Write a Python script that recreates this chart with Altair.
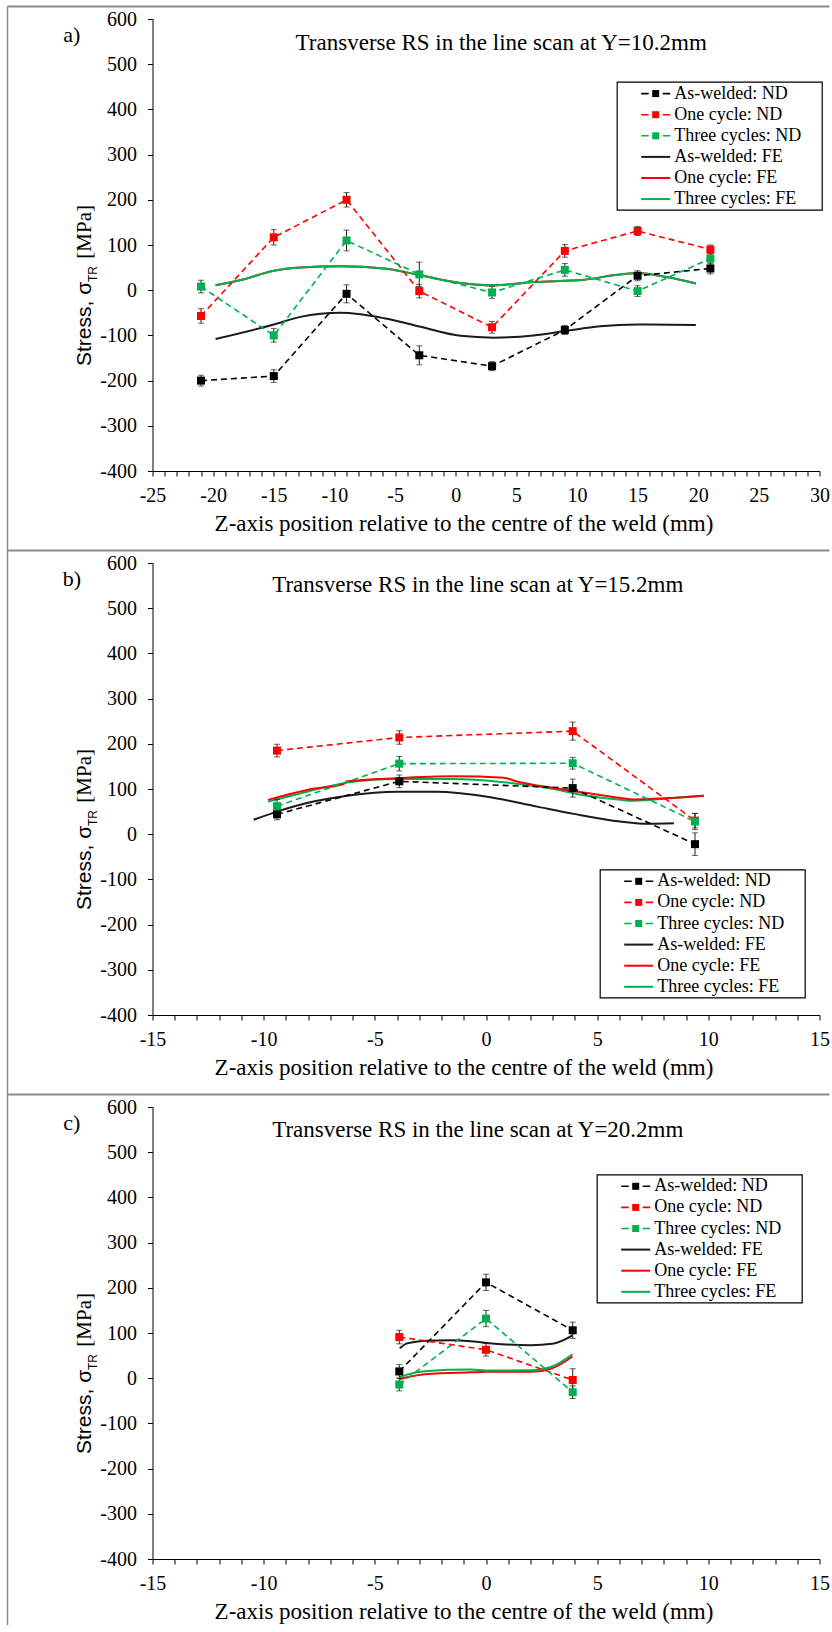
import altair as alt
import pandas as pd

# ---------------- series labels and colours ----------------
SERIES = ["As-welded: ND", "One cycle: ND", "Three cycles: ND",
          "As-welded: FE", "One cycle: FE", "Three cycles: FE"]
COLORS = ["#000000", "#FF0000", "#00B050", "#1a1a1a", "#FF0000", "#00B050"]

PANEL_LETTERS = ["a)", "b)", "c)"]
PANEL_TITLES = ["Transverse RS in the line scan at Y=10.2mm",
                "Transverse RS in the line scan at Y=15.2mm",
                "Transverse RS in the line scan at Y=20.2mm"]
X_TITLE = "Z-axis position relative to the centre of the weld (mm)"
Y_TICKS = list(range(-400, 601, 100))

# ---------------- a) line scan at Y = 10.2 mm ----------------
A_Z_ND = [-21, -15, -9, -3, 3, 9, 15, 21]
A_AW_ND = [-200, -190, -8, -144, -168, -88, 32, 48]
A_AW_ERR = [12, 14, 20, 21, 10, 10, 11, 12]
A_1C_ND = [-57, 117, 200, -2, -82, 87, 131, 90]
A_1C_ERR = [16, 17, 16, 15, 13, 14, 10, 10]
A_3C_ND = [8, -100, 110, 35, -5, 45, -2, 70]
A_3C_ERR = [14, 15, 23, 27, 13, 14, 12, 12]

A_AW_FE_Z = [-19.8, -15, -12.8, -9.5, -5.9, -2.9, 0.4, 3.1, 6.4, 8.9, 11.9, 15, 19.8]
A_AW_FE = [-108, -76, -59, -50, -62, -81, -101, -105, -100, -91, -80, -76, -77]
A_1C_FE_Z = [-19.8, -17.8, -15, -12.8, -9.5, -5.9, -2.9, 0.4, 3.1, 6.4, 10.6, 13, 15, 17.4, 19.8]
A_1C_FE = [11, 22, 43, 50, 53, 48, 33, 16, 11, 18, 23, 33, 38, 29, 15]
A_3C_FE_Z = [-19.8, -17.8, -15, -12.8, -9.5, -5.9, -2.9, 0.4, 3.1, 6.4, 10.6, 13, 15, 17.4, 19.8]
A_3C_FE = [11, 22, 43, 50, 53, 48, 33, 16, 11, 18, 23, 33, 38, 29, 15]

# ---------------- b) line scan at Y = 15.2 mm ----------------
B_Z_ND = [-9.4, -3.9, 3.9, 9.4]
B_AW_ND = [44, 117, 102, -22]
B_AW_ERR = [12, 14, 20, 25]
B_1C_ND = [185, 214, 228, 30]
B_1C_ERR = [14, 15, 20, 16]
B_3C_ND = [62, 156, 157, 28]
B_3C_ERR = [15, 16, 13, 18]

B_AW_FE_Z = [-10.45, -9.4, -8.05, -6.25, -4.0, -2.2, 0.05, 2.3, 3.95, 6.05, 7.3, 8.45]
B_AW_FE = [32, 50, 69, 85, 94, 94, 83, 61, 45, 28, 23, 24]
B_1C_FE_Z = [-9.8, -8.05, -6.4, -6.25, -4.0, -1.45, 0.8, 1.35, 3.05, 4.55, 6.05, 6.6, 8.7, 9.8]
B_1C_FE = [76, 98, 111, 117, 124, 128, 125, 117, 102, 91, 80, 77, 81, 85]
B_3C_FE_Z = [-9.8, -8.05, -6.4, -4.0, -1.45, 0.8, 3.05, 4.55, 6.05, 6.6, 8.7, 9.8]
B_3C_FE = [72, 94, 113, 122, 122, 115, 100, 85, 76, 74, 81, 85]

# ---------------- c) line scan at Y = 20.2 mm ----------------
C_Z_ND = [-3.9, 0, 3.9]
C_AW_ND = [15, 212, 106]
C_AW_ERR = [15, 18, 18]
C_1C_ND = [91, 63, -4]
C_1C_ERR = [15, 14, 25]
C_3C_ND = [-14, 132, -31]
C_3C_ERR = [14, 18, 14]

C_AW_FE_Z = [-3.88, -3.55, -2.65, -1.6, -0.7, 0, 2.03, 2.98, 3.89]
C_AW_FE = [66, 77, 83, 84, 82, 78, 73, 76, 95]
C_1C_FE_Z = [-3.88, -3.55, -2.65, -0.7, 0, 2.03, 2.98, 3.89]
C_1C_FE = [-2, 2, 9.5, 13, 14, 14, 22, 48]
C_3C_FE_Z = [-3.88, -3.55, -2.65, -0.7, 0, 2.03, 2.98, 3.89]
C_3C_FE = [2, 8, 16, 19, 17, 17.5, 26, 53]

# ---------------- layout ----------------
W, H = 667, 452
GAP = 92
SERIF = "Liberation Serif"
SANS = "Liberation Sans"
ONE = pd.DataFrame({"k": [0]})
LEG_W, LEG_H = 205, 128
EDGE_X = -145
EDGE_Y = -12.5
TICK_FS = 20
TITLE_FS = 23
LEG_FS = 18

Y_SCALE = alt.Scale(domain=[-400, 600], nice=False, zero=False)
COLOR_SCALE = alt.Scale(domain=SERIES, range=COLORS)
Y_AXIS = alt.Axis(values=Y_TICKS, labelExpr="'' + datum.value", title=None,
                  labelFont=SERIF, labelFontSize=TICK_FS, labelColor="black",
                  labelPadding=11, tickSize=5, tickColor="black",
                  domainColor="black", grid=False)


def x_axis(lo, hi):
    return alt.Axis(values=list(range(lo, hi + 1)),
                    labelExpr="datum.value % 5 === 0 ? '' + datum.value : ''",
                    title=X_TITLE, titleX=311, titleY=59, titleBaseline="alphabetic",
                    titleFont=SERIF, titleFontSize=TITLE_FS, titleFontWeight="normal",
                    titleColor="black", labelFont=SERIF, labelFontSize=TICK_FS,
                    labelColor="black", labelPadding=9, labelFlush=False,
                    labelOverlap=False, tickSize=5, tickColor="black",
                    domainColor="black", grid=False)


def nd_frame(z, groups):
    rows = []
    for label, vals, errs in groups:
        for zi, v, e in zip(z, vals, errs):
            rows.append({"z": zi, "s": v, "lo": v - e, "hi": v + e, "series": label})
    return pd.DataFrame(rows)


def fe_frame(label, z, vals):
    return pd.DataFrame({"z": z, "s": vals, "series": label})


def text_at(txt, x, y, size, font=SERIF, align="center", angle=0):
    return alt.Chart(ONE).mark_text(text=txt, font=font, fontSize=size, align=align,
                                    baseline="middle", angle=angle, color="black"
                                    ).encode(x=alt.value(x), y=alt.value(y))


def hline(x1, x2, y, color, width, dash=None):
    kw = dict(color=color, strokeWidth=width)
    if dash:
        kw["strokeDash"] = dash
    return alt.Chart(ONE).mark_rule(**kw).encode(x=alt.value(x1), x2=alt.value(x2), y=alt.value(y))


def vline(x, y1, y2, color, width):
    return alt.Chart(ONE).mark_rule(color=color, strokeWidth=width).encode(
        x=alt.value(x), y=alt.value(y1), y2=alt.value(y2))


def legend(bx, by):
    layers = [alt.Chart(ONE).mark_rect(fill="white", stroke="black", strokeWidth=1.2).encode(
        x=alt.value(bx), x2=alt.value(bx + LEG_W), y=alt.value(by), y2=alt.value(by + LEG_H))]
    for i, (label, col) in enumerate(zip(SERIES, COLORS)):
        ry = by + 11.5 + 21.1 * i
        if i < 3:
            layers.append(hline(bx + 24, bx + 53, ry, col, 1.6, [7.5, 14, 7.5]))
            layers.append(alt.Chart(ONE).mark_square(size=49, color=col, opacity=1).encode(
                x=alt.value(bx + 38.5), y=alt.value(ry)))
        else:
            layers.append(hline(bx + 24, bx + 53, ry, col, 2))
        layers.append(text_at(label, bx + 57, ry, LEG_FS, align="left"))
    return layers


def panel(idx, xlo, xhi, nd, fes, title_xy, legend_xy, edge_bottom):
    x_enc = alt.X("z:Q", scale=alt.Scale(domain=[xlo, xhi], nice=False, zero=False),
                  axis=x_axis(xlo, xhi))
    y_enc = alt.Y("s:Q", scale=Y_SCALE, axis=Y_AXIS)
    color = alt.Color("series:N", scale=COLOR_SCALE, legend=None)

    layers = [
        hline(EDGE_X, 677, EDGE_Y, "#8a8a8a", 2),
        vline(EDGE_X, EDGE_Y, edge_bottom, "#8a8a8a", 1.5),
        text_at(PANEL_LETTERS[idx], -80.6, 16, 22),
        text_at(PANEL_TITLES[idx], title_xy[0], title_xy[1], TITLE_FS),
        # y-axis title: "Stress, σ" + subscript "TR" + "[MPa]"
        text_at("Stress, σ", -68, 347, 21, font=SANS, align="left", angle=270),
        text_at("TR", -60, 263, 12, font=SANS, align="left", angle=270),
        text_at("[MPa]", -68, 186, 21, align="right", angle=270),
    ]
    for fe in fes:
        layers.append(alt.Chart(fe).mark_line(strokeWidth=2, interpolate="monotone").encode(
            x=x_enc, y=y_enc, color=color))
    layers.append(alt.Chart(nd).mark_line(strokeWidth=1.6, strokeDash=[6, 4]).encode(
        x=x_enc, y=y_enc, color=color))
    layers.append(alt.Chart(nd).mark_rule(color="#222222", strokeWidth=1).encode(
        x=x_enc, y=alt.Y("lo:Q", scale=Y_SCALE, axis=Y_AXIS), y2="hi:Q"))
    for f in ["lo", "hi"]:
        layers.append(alt.Chart(nd).mark_tick(orient="horizontal", size=6, thickness=1,
                                              color="#222222").encode(
            x=x_enc, y=alt.Y(f"{f}:Q", scale=Y_SCALE, axis=Y_AXIS)))
    layers.append(alt.Chart(nd).mark_square(size=64, opacity=1).encode(
        x=x_enc, y=y_enc, color=color))
    layers += legend(*legend_xy)
    return alt.layer(*layers).properties(width=W, height=H)


nd_a = nd_frame(A_Z_ND, [(SERIES[0], A_AW_ND, A_AW_ERR), (SERIES[1], A_1C_ND, A_1C_ERR),
                         (SERIES[2], A_3C_ND, A_3C_ERR)])
nd_b = nd_frame(B_Z_ND, [(SERIES[0], B_AW_ND, B_AW_ERR), (SERIES[1], B_1C_ND, B_1C_ERR),
                         (SERIES[2], B_3C_ND, B_3C_ERR)])
nd_c = nd_frame(C_Z_ND, [(SERIES[0], C_AW_ND, C_AW_ERR), (SERIES[1], C_1C_ND, C_1C_ERR),
                         (SERIES[2], C_3C_ND, C_3C_ERR)])

fe_a = [fe_frame(SERIES[3], A_AW_FE_Z, A_AW_FE), fe_frame(SERIES[4], A_1C_FE_Z, A_1C_FE),
        fe_frame(SERIES[5], A_3C_FE_Z, A_3C_FE)]
fe_b = [fe_frame(SERIES[3], B_AW_FE_Z, B_AW_FE), fe_frame(SERIES[5], B_3C_FE_Z, B_3C_FE),
        fe_frame(SERIES[4], B_1C_FE_Z, B_1C_FE)]
fe_c = [fe_frame(SERIES[3], C_AW_FE_Z, C_AW_FE), fe_frame(SERIES[4], C_1C_FE_Z, C_1C_FE),
        fe_frame(SERIES[5], C_3C_FE_Z, C_3C_FE)]

pa = panel(0, -25, 30, nd_a, fe_a, (348.7, 24), (464.7, 63.1), H + GAP + EDGE_Y)
pb = panel(1, -15, 15, nd_b, fe_b, (325.3, 22), (447.7, 306.8), H + GAP + EDGE_Y)
pc = panel(2, -15, 15, nd_c, fe_c, (325.3, 22.7), (444.7, 67.8), 518)

chart = alt.vconcat(pa, pb, pc, spacing=GAP, bounds="flush").configure_view(
    stroke=None).configure_axis(
    labelFont=SERIF, titleFont=SERIF, labelColor="black", titleColor="black",
    titleFontWeight="normal").configure_text(font=SERIF).properties(
    padding={"left": 6.5, "top": 5, "right": 0, "bottom": 0}, background="white")

chart.save("out.html", embed_options={"renderer": "svg", "actions": False})
